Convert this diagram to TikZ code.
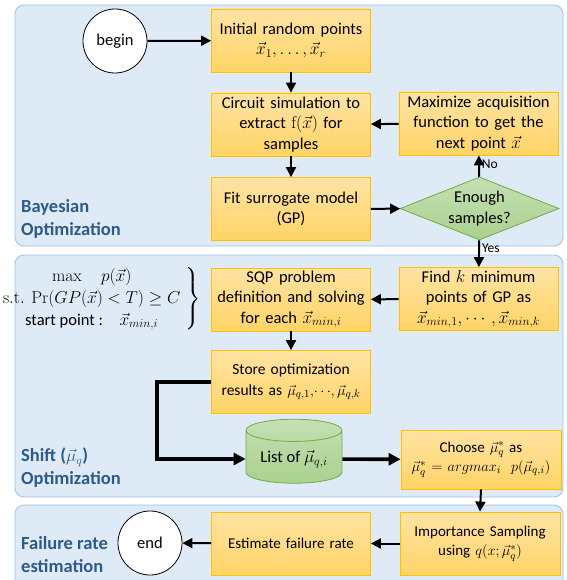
\documentclass[tikz,border=0pt]{standalone}
\usepackage{amsmath}
\usepackage[no-math]{fontspec}
\setmainfont{Carlito}
\usetikzlibrary{shapes.geometric,arrows.meta,positioning}
\definecolor{panelfill}{HTML}{DEEBF7}
\definecolor{paneldraw}{HTML}{9DC3E6}
\definecolor{boxtop}{HTML}{FFE3A3}
\definecolor{boxbot}{HTML}{FFD466}
\definecolor{boxdraw}{HTML}{FFC000}
\definecolor{greentop}{HTML}{C5E0B4}
\definecolor{greenbot}{HTML}{A9D18E}
\definecolor{greendraw}{HTML}{70AD47}
\definecolor{paneltext}{HTML}{2E5A88}
\tikzset{
  panel/.style={draw=paneldraw, fill=panelfill, rounded corners=9pt, line width=0.8pt},
  paneltitle/.style={anchor=west, inner sep=0pt, align=left, text=paneltext,
    font=\fontsize{18.5}{23}\selectfont\bfseries},
  stepbox/.style={draw=boxdraw, top color=boxtop, bottom color=boxbot, line width=0.8pt,
    minimum width=159, minimum height=63, text width=158, align=center, inner sep=0.5pt,
    font=\fontsize{16.5}{20.5}\selectfont},
  smallbox/.style={stepbox, font=\fontsize{15}{19.5}\selectfont},
  terminal/.style={draw, circle, fill=white, line width=0.8pt, minimum size=64, inner sep=0pt,
    font=\fontsize{16.5}{19}\selectfont},
  decision/.style={draw=greendraw, diamond, top color=greentop, bottom color=greenbot,
    line width=0.8pt, aspect=2.5, minimum width=159, minimum height=63, inner sep=0pt,
    align=center, font=\fontsize{16.5}{20.5}\selectfont},
  store/.style={draw=greendraw, cylinder, shape border rotate=90, aspect=0.3,
    top color=greentop, bottom color=greenbot, line width=0.8pt,
    minimum width=96, minimum height=64, font=\fontsize{16.5}{20}\selectfont},
  flow/.style={-{Triangle[length=10pt,width=10pt]}, line width=2pt},
  bigflow/.style={-{Triangle[length=12pt,width=12pt]}, line width=3.6pt},
  tag/.style={inner sep=2pt, font=\fontsize{13.5}{16}\selectfont}
}
\begin{document}
\begin{tikzpicture}[x=1pt, y=-1pt]
  \clip (0, 0) rectangle (566, 580);
  \fill [white] (0, 0) rectangle (566, 580);
  % panels
  \draw [panel] (15, 5) rectangle (563, 246);
  \draw [panel] (15, 255) rectangle (563, 497);
  \draw [panel] (15, 505) rectangle (563, 600);
  \node [paneltitle] at (21, 219) {Bayesian\\Optimization};
  \node [paneltitle] at (21, 468) {Shift ($\vec{\mu}_q$)\\Optimization};
  \node [paneltitle] at (21, 555) {Failure rate\\estimation};
  % bayesian optimization
  \node [terminal] (begin) at (115, 41) {begin};
  \node [stepbox] (init) at (291, 40.5) {Initial random points\\$\vec{x}_1, \dots, \vec{x}_r$};
  \node [stepbox] (sim) at (291, 124.5) {Circuit simulation to\\extract $\mathrm{f}(\vec{x})$ for\\samples};
  \node [stepbox] (fit) at (291, 209) {Fit surrogate model\\(GP)};
  \node [stepbox] (acq) at (478.5, 123.5) {Maximize acquisition\\function to get the\\next point $\vec{x}$};
  \node [decision] (enough) at (479.5, 208.5) {Enough\\samples?};
  % shift optimization
  \node [anchor=east, inner sep=0pt, font=\fontsize{16.5}{22}\selectfont] (sqpform) at (201, 299)
    {$\left.\begin{array}{c}
      \max \quad p(\vec{x})\\
      \mathrm{s.t.}\ \Pr(GP(\vec{x}) < T) \geq C\\
      \text{start point :}\quad \vec{x}_{min,i}
    \end{array}\right\}$};
  \node [stepbox] (sqp) at (291, 299.5) {SQP problem\\definition and solving\\for each $\vec{x}_{min,i}$};
  \node [stepbox] (findk) at (478.5, 299) {Find $k$ minimum\\points of GP as\\$\vec{x}_{min,1}, \cdots, \vec{x}_{min,k}$};
  \node [stepbox, font=\fontsize{15.5}{20.5}\selectfont] (storeres) at (291, 382)
    {Store optimization\\results as $\vec{\mu}_{q,1},\!\cdots\!,\vec{\mu}_{q,k}$};
  \node [store] (list) at (294, 459) {List of $\vec{\mu}_{q,i}$};
  \node [smallbox, minimum width=160, minimum height=59] (choose) at (481, 459.5)
    {Choose $\vec{\mu}_q^{*}$ as\\$\vec{\mu}_q^{*} = argmax_i\ \ p(\vec{\mu}_{q,i})$};
  \coordinate (bend) at (157, 382);
  % failure rate estimation
  \node [terminal] (end) at (150, 543) {end};
  \node [smallbox] (estimate) at (291, 543.5) {Estimate failure rate};
  \node [smallbox, minimum width=160] (impsamp) at (480, 543.5) {Importance Sampling\\using $q(x; \vec{\mu}_q^{*})$};
  % connectors
  \draw [flow] (begin) -- (init);
  \draw [flow] (init) -- (sim);
  \draw [flow] (sim) -- (fit);
  \draw [flow] (fit) -- (enough);
  \draw [flow] (enough) -- node [tag, right, pos=0.6] {No} (acq);
  \draw [flow] (acq) -- (sim);
  \draw [flow] (enough) -- node [tag, right, pos=0.3] {Yes} (findk);
  \draw [flow] (findk) -- (sqp);
  \draw [flow] (sqp) -- (storeres);
  \draw [bigflow] (storeres.west) -- (bend) |- (list.west);
  \draw [bigflow] (list) -- (choose);
  \draw [flow] (choose.south) -- (impsamp.north);
  \draw [flow] (impsamp) -- (estimate);
  \draw [flow] (estimate) -- (end);
\end{tikzpicture}
\end{document}
